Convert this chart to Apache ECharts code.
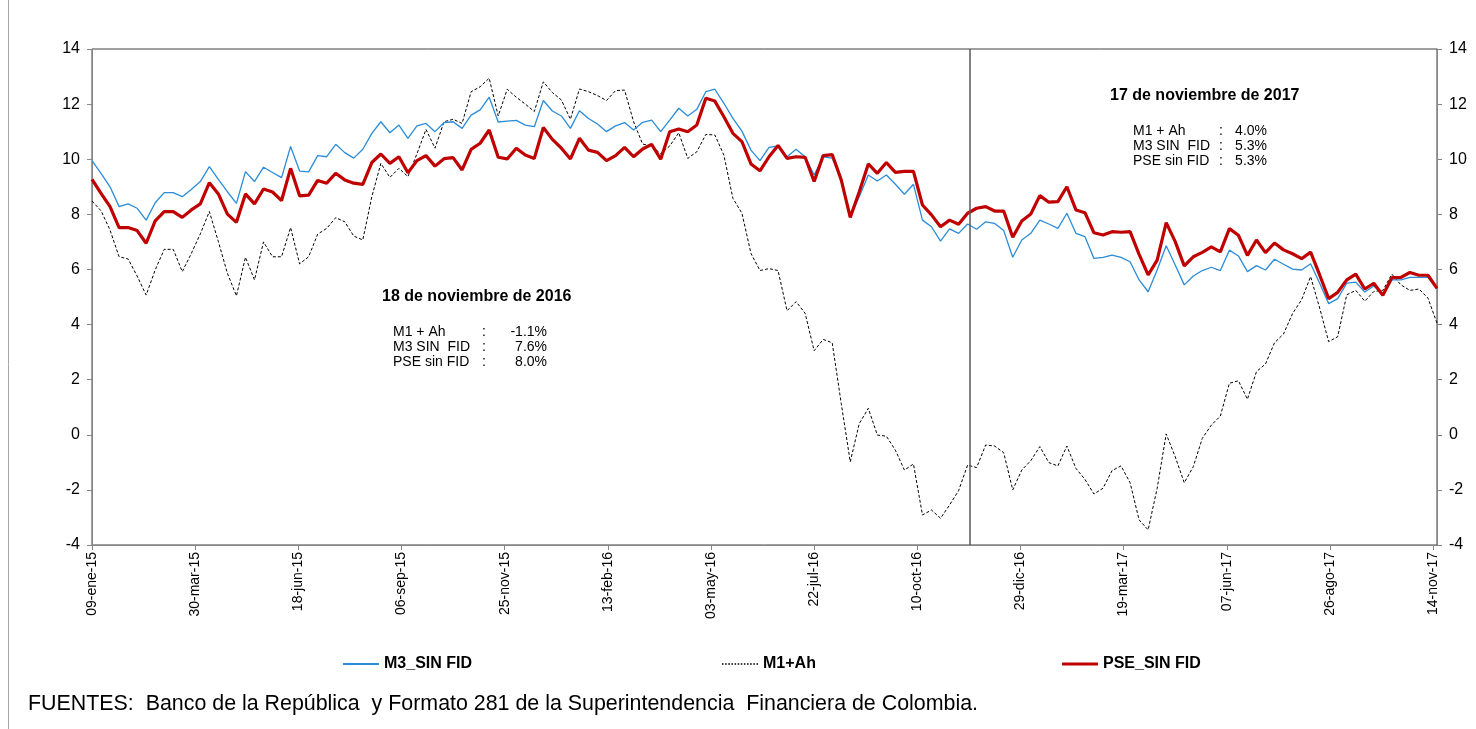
<!DOCTYPE html>
<html>
<head>
<meta charset="utf-8">
<script src="https://cdn.jsdelivr.net/npm/echarts@6/dist/echarts.min.js"></script>
<style>
  html, body { margin: 0; padding: 0; background: #fff; }
  #chart { width: 1476px; height: 729px; }
</style>
</head>
<body>
<div id="chart"></div>
<script>
// weekly observations, first one on 09-ene-15, one every 7 days up to 17-nov-17
const weekStep = 7;
const tickLabels = ['09-ene-15', '30-mar-15', '18-jun-15', '06-sep-15', '25-nov-15', '13-feb-16', '03-may-16',
  '22-jul-16', '10-oct-16', '29-dic-16', '19-mar-17', '07-jun-17', '26-ago-17', '14-nov-17'];
const tickDays = 80;
const markerDay = 681; // 18-nov-16 marker

const m3SinFid = [
  9.95, 9.49, 9.0, 8.28, 8.38, 8.22, 7.79, 8.42, 8.79, 8.79, 8.64, 8.9, 9.19, 9.73, 9.27, 8.82, 8.4, 9.55, 9.19, 9.71,
  9.52, 9.33, 10.46, 9.57, 9.54, 10.13, 10.09, 10.54, 10.24, 10.04, 10.36, 10.94, 11.36, 10.96, 11.24, 10.76, 11.21, 11.3, 11.0, 11.33,
  11.36, 11.12, 11.6, 11.79, 12.25, 11.35, 11.38, 11.41, 11.24, 11.18, 12.13, 11.75, 11.57, 11.12, 11.76, 11.48, 11.28, 11.0, 11.21, 11.33,
  11.06, 11.34, 11.42, 11.0, 11.42, 11.85, 11.57, 11.81, 12.45, 12.54, 12.03, 11.48, 11.02, 10.33, 9.95, 10.43, 10.48, 10.09, 10.36, 10.09,
  9.43, 10.09, 10.04, 9.3, 7.92, 8.64, 9.43, 9.21, 9.43, 9.09, 8.73, 9.09, 7.79, 7.55, 7.03, 7.47, 7.31, 7.65, 7.46, 7.73,
  7.67, 7.41, 6.44, 7.07, 7.31, 7.79, 7.65, 7.49, 8.04, 7.31, 7.19, 6.4, 6.44, 6.52, 6.44, 6.28, 5.62, 5.19, 5.98, 6.86,
  6.16, 5.44, 5.76, 5.96, 6.08, 5.96, 6.7, 6.49, 5.92, 6.14, 5.98, 6.37, 6.19, 6.01, 5.98, 6.21, 5.5, 4.76, 4.94, 5.5,
  5.54, 5.18, 5.4, 5.08, 5.62, 5.62, 5.71, 5.71, 5.71, 5.3
];
const m1Ah = [
  8.48, 8.13, 7.43, 6.46, 6.38, 5.76, 5.07, 5.98, 6.73, 6.73, 5.92, 6.58, 7.29, 8.1, 7.01, 5.86, 5.04, 6.44, 5.62, 7.0,
  6.46, 6.46, 7.52, 6.2, 6.46, 7.28, 7.49, 7.88, 7.73, 7.21, 7.07, 8.64, 9.85, 9.34, 9.67, 9.37, 10.2, 11.08, 10.4, 11.36,
  11.45, 11.3, 12.45, 12.63, 12.94, 11.57, 12.54, 12.25, 12.0, 11.73, 12.81, 12.42, 12.15, 11.45, 12.55, 12.45, 12.31, 12.13, 12.49, 12.51,
  11.36, 10.55, 10.48, 10.2, 10.48, 10.96, 10.03, 10.27, 10.9, 10.88, 10.15, 8.58, 8.04, 6.58, 5.96, 6.03, 5.96, 4.5, 4.83, 4.41,
  3.05, 3.46, 3.34, 1.14, -0.98, 0.41, 0.96, -0.01, -0.05, -0.56, -1.28, -1.06, -2.91, -2.73, -3.03, -2.55, -2.03, -1.1, -1.19, -0.37,
  -0.41, -0.65, -2.0, -1.28, -0.94, -0.43, -1.01, -1.13, -0.41, -1.22, -1.62, -2.15, -1.94, -1.3, -1.13, -1.74, -3.09, -3.45, -1.94, 0.03,
  -0.8, -1.74, -1.16, -0.13, 0.35, 0.68, 1.87, 1.96, 1.29, 2.29, 2.57, 3.34, 3.66, 4.4, 4.9, 5.74, 4.6, 3.38, 3.56, 5.08,
  5.24, 4.85, 5.2, 5.24, 5.83, 5.44, 5.24, 5.29, 4.96, 4.05
];
const pseSinFid = [
  9.27, 8.76, 8.28, 7.52, 7.52, 7.41, 6.95, 7.76, 8.1, 8.1, 7.89, 8.16, 8.38, 9.15, 8.74, 8.01, 7.71, 8.74, 8.38, 8.92,
  8.81, 8.5, 9.67, 8.67, 8.7, 9.23, 9.13, 9.49, 9.25, 9.13, 9.09, 9.88, 10.19, 9.85, 10.09, 9.51, 9.95, 10.13, 9.75, 10.02,
  10.06, 9.61, 10.36, 10.58, 11.06, 10.07, 10.01, 10.4, 10.15, 10.03, 11.15, 10.72, 10.4, 10.01, 10.76, 10.33, 10.25, 9.95, 10.13, 10.43,
  10.09, 10.37, 10.54, 10.0, 11.0, 11.1, 11.0, 11.24, 12.21, 12.11, 11.54, 10.94, 10.64, 9.83, 9.58, 10.09, 10.5, 10.03, 10.09, 10.07,
  9.19, 10.13, 10.17, 9.25, 7.89, 8.82, 9.83, 9.49, 9.88, 9.52, 9.56, 9.56, 8.34, 7.98, 7.55, 7.79, 7.64, 8.04, 8.22, 8.28,
  8.12, 8.12, 7.17, 7.76, 8.01, 8.68, 8.44, 8.46, 9.0, 8.16, 8.06, 7.33, 7.25, 7.37, 7.35, 7.37, 6.55, 5.8, 6.34, 7.7,
  7.01, 6.13, 6.46, 6.62, 6.82, 6.64, 7.48, 7.24, 6.51, 7.07, 6.61, 6.96, 6.71, 6.57, 6.39, 6.63, 5.8, 4.94, 5.17, 5.62,
  5.83, 5.29, 5.5, 5.06, 5.7, 5.71, 5.89, 5.79, 5.79, 5.31
];

const notes2016 = [['M1 + Ah', '-1.1%'], ['M3 SIN  FID', '7.6%'], ['PSE sin FID', '8.0%']];
const notes2017 = [['M1 + Ah', '4.0%'], ['M3 SIN  FID', '5.3%'], ['PSE sin FID', '5.3%']];

const toPoints = (values) => values.map((v, i) => [i * weekStep, v]);

const noteBlock = (title, rows, titleX, x, y, colonX, valueX) => {
  const children = [{
    type: 'text',
    left: titleX, top: y - 9,
    style: { text: title, font: 'bold 16px "Liberation Sans", Arial', fill: '#000' },
  }];
  rows.forEach(([label, value], k) => {
    const ty = y + 34 + k * 15;
    children.push({ type: 'text', x: x, y: ty, style: { text: label, font: '14px "Liberation Sans", Arial', fill: '#000', verticalAlign: 'middle' } });
    children.push({ type: 'text', x: colonX, y: ty, style: { text: ':', font: '14px "Liberation Sans", Arial', fill: '#000', verticalAlign: 'middle' } });
    children.push({ type: 'text', x: valueX, y: ty, style: { text: value, font: '14px "Liberation Sans", Arial', fill: '#000', align: 'right', verticalAlign: 'middle' } });
  });
  return { type: 'group', children };
};

const dottedIcon = 'path://' + Array.from({ length: 12 }, (_, k) => `M${k * 2},0h1v1h-1z`).join('');

const myChart = echarts.init(document.getElementById('chart'));
const axisFont = { fontFamily: '"Liberation Sans", Arial', color: '#000' };
const legendText = { fontFamily: '"Liberation Sans", Arial', fontWeight: 'bold', fontSize: 16, color: '#000' };

const option = {
  animation: false,
  backgroundColor: '#fff',
  grid: {
    left: 92, right: 39, top: 49, bottom: 184,
    show: true, borderColor: '#404040', borderWidth: 1,
  },
  xAxis: {
    type: 'value',
    min: 0,
    max: m3SinFid.length * weekStep - weekStep,
    interval: tickDays,
    splitLine: { show: false },
    axisLine: { onZero: false, lineStyle: { color: '#868686', width: 1 } },
    axisTick: { show: true, length: 5, lineStyle: { color: '#868686' } },
    axisLabel: {
      ...axisFont,
      fontSize: 14,
      rotate: 90,
      margin: 7,
      showMaxLabel: false,
      formatter: (v) => (v % tickDays === 0 ? tickLabels[v / tickDays] : ''),
    },
  },
  yAxis: [
    {
      type: 'value', min: -4, max: 14, interval: 2, position: 'left',
      splitLine: { show: false },
      axisLine: { show: true, onZero: false, lineStyle: { color: '#868686' } },
      axisTick: { show: true, length: 5, lineStyle: { color: '#868686' } },
      axisLabel: { ...axisFont, fontSize: 16, margin: 12 },
    },
    {
      type: 'value', min: -4, max: 14, interval: 2, position: 'right',
      splitLine: { show: false },
      axisLine: { show: true, onZero: false, lineStyle: { color: '#868686' } },
      axisTick: { show: true, length: 5, lineStyle: { color: '#868686' } },
      axisLabel: { ...axisFont, fontSize: 16, margin: 12 },
    },
  ],
  legend: [
    { left: 338, top: 651, itemWidth: 36, itemHeight: 2, itemGap: 0, textStyle: legendText,
      data: [{ name: 'M3_SIN FID', icon: 'rect' }] },
    { left: 717, top: 651, itemWidth: 36, itemHeight: 2, itemGap: 0, textStyle: legendText,
      data: [{ name: 'M1+Ah', icon: dottedIcon }] },
    { left: 1057, top: 651, itemWidth: 36, itemHeight: 3, itemGap: 0, textStyle: legendText,
      data: [{ name: 'PSE_SIN FID', icon: 'rect' }] },
  ],
  series: [
    {
      name: 'M3_SIN FID', type: 'line', data: toPoints(m3SinFid),
      symbol: 'none', color: '#2B8CD8',
      lineStyle: { color: '#2B8CD8', width: 1.3 },
      markLine: {
        silent: true, symbol: 'none', label: { show: false },
        lineStyle: { color: '#595959', width: 1.5, type: 'solid' },
        data: [{ xAxis: markerDay }],
      },
      z: 3,
    },
    {
      name: 'M1+Ah', type: 'line', data: toPoints(m1Ah),
      symbol: 'none', color: '#000',
      lineStyle: { color: '#000', width: 1, type: [3, 2] },
      z: 2,
    },
    {
      name: 'PSE_SIN FID', type: 'line', data: toPoints(pseSinFid),
      symbol: 'none', color: '#C00000',
      lineStyle: { color: '#C00000', width: 3.2 },
      z: 4,
    },
  ],
  graphic: [
    { type: 'line', shape: { x1: 8.5, y1: 0, x2: 8.5, y2: 729 }, style: { stroke: '#a6a6a6', lineWidth: 1 } },
    noteBlock('18 de noviembre de 2016', notes2016, 382, 393, 298, 482, 547),
    noteBlock('17 de noviembre de 2017', notes2017, 1110, 1133, 97, 1219, 1267),
    {
      type: 'text', left: 28, top: 694,
      style: {
        text: 'FUENTES:  Banco de la República  y Formato 281 de la Superintendencia  Financiera de Colombia.',
        font: '21.4px "Liberation Sans", Arial', fill: '#000',
      },
    },
  ],
};
myChart.setOption(option);
window.addEventListener('resize', () => {
  myChart.resize();
});
</script>
</body>
</html>
